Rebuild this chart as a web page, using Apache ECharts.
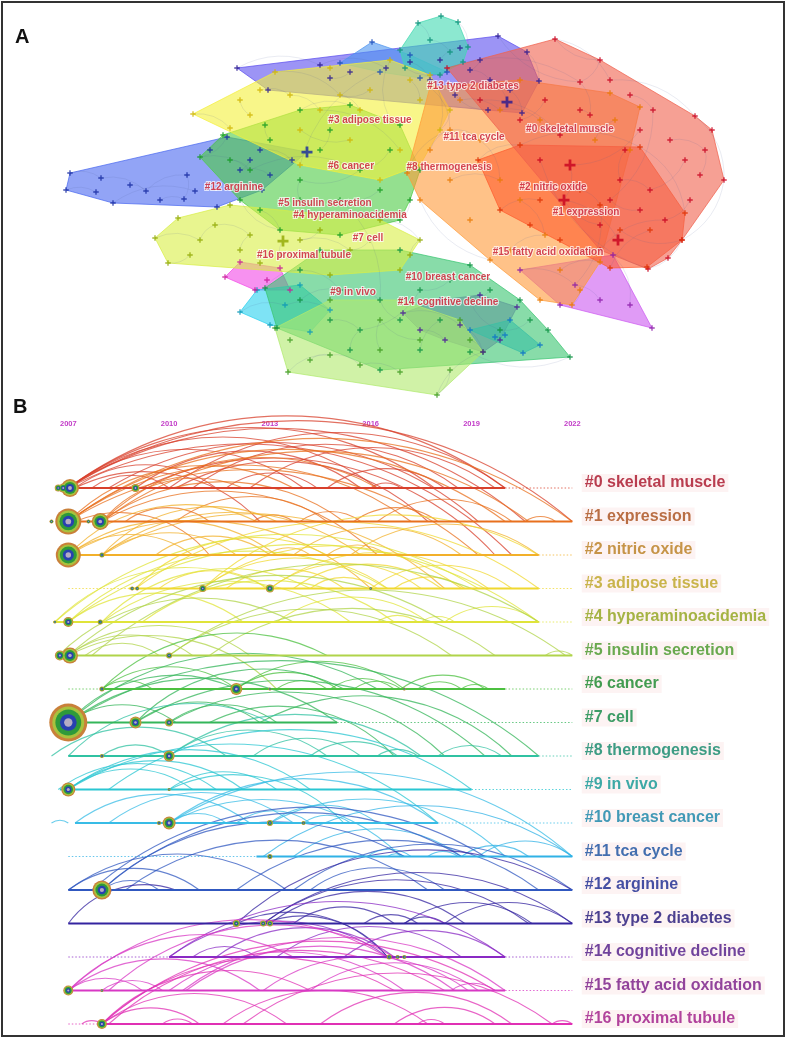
<!DOCTYPE html>
<html>
<head>
<meta charset="utf-8">
<script src="https://cdn.jsdelivr.net/npm/echarts@6.0.0/dist/echarts.min.js"></script>
<style>
  html, body { margin: 0; padding: 0; background: #fff; }
  #main { width: 789px; height: 1040px; }
</style>
</head>
<body>
<div id="main"></div>
<script>
// ---- data ----
var clusterNames = ['#0 skeletal muscle', '#1 expression', '#2 nitric oxide', '#3 adipose tissue',
  '#4 hyperaminoacidemia', '#5 insulin secretion', '#6 cancer', '#7 cell', '#8 thermogenesis',
  '#9 in vivo', '#10 breast cancer', '#11 tca cycle', '#12 arginine', '#13 type 2 diabetes',
  '#14 cognitive decline', '#15 fatty acid oxidation', '#16 proximal tubule'];

// panel A: network layout, one list of nodes [x, y, big] per cluster
var netNodes = [
  [[447,68],[555,39],[610,80],[695,116],[712,130],[724,180],[682,240],[668,258],[648,269],[600,250],[540,160],[480,100],[580,82],[590,115],[640,130],[653,110],[625,150],[685,160],[700,175],[650,190],[610,200],[665,220],[570,165,1],[520,120],[560,135],[564,200,1],[618,240,1],
   [600,60],[630,95],[670,140],[705,150],[690,200],[640,210],[600,225],[580,110],[545,100],[620,180]],
  [[478,160],[520,145],[640,147],[685,213],[682,240],[647,267],[610,268],[560,240],[500,210],[580,190],[600,205],[620,230],[650,230],[540,200],[530,225]],
  [[430,87],[520,80],[610,93],[640,107],[630,150],[600,262],[572,305],[540,300],[490,260],[420,200],[407,173],[450,130],[480,140],[500,180],[520,200],[545,235],[560,270],[470,220],[595,140],[615,120],
   [460,100],[500,110],[540,120],[510,250],[580,290],[450,180],[430,150]],
  [[193,114],[240,100],[275,72],[330,68],[390,60],[430,75],[440,130],[420,165],[380,180],[300,165],[230,128],[340,95],[360,110],[390,120],[420,100],[350,140],[300,130],[320,110],[400,150],
   [260,90],[290,95],[410,80],[370,90],[250,115],[450,110]],
  [[155,238],[168,263],[178,218],[230,205],[300,215],[380,220],[420,240],[400,270],[330,275],[260,263],[200,240],[215,225],[250,235],[300,240],[350,250],[283,241,1],
   [190,255],[240,250],[280,255],[320,230],[370,240],[410,255]],
  [[275,328],[288,372],[437,395],[483,352],[460,320],[400,300],[330,300],[290,340],[330,355],[360,365],[400,372],[420,340],[380,320],
   [310,360],[380,350],[450,370],[470,340]],
  [[200,157],[223,135],[265,125],[300,110],[350,105],[400,125],[420,170],[400,220],[340,235],[280,230],[240,200],[320,150],[360,170],[300,180],[380,190],[340,200],[250,170],
   [230,160],[270,140],[330,130],[390,150],[410,200],[300,200],[260,210]],
  [[265,288],[277,328],[380,370],[470,352],[570,357],[548,330],[520,300],[470,265],[400,250],[320,250],[300,270],[340,290],[380,300],[420,290],[440,320],[360,330],[500,330],[470,300],
   [300,300],[330,320],[400,320],[450,280],[490,290],[530,320],[420,350],[350,350]],
  [[418,23],[441,16],[458,22],[468,47],[463,62],[440,75],[405,68],[400,50],[430,40],[450,52]],
  [[240,312],[257,290],[300,285],[330,310],[310,332],[270,325],[285,305]],
  [[470,330],[495,337],[523,353],[540,345],[510,320],[505,335]],
  [[340,63],[372,42],[410,55],[447,72],[420,78],[380,72]],
  [[70,173],[66,190],[113,203],[217,207],[262,190],[292,160],[260,150],[227,137],[101,178],[96,192],[146,191],[187,175],[195,191],[184,199],[240,170],[270,175],[307,152,1],
   [130,185],[160,200],[210,150],[250,160]],
  [[237,68],[268,90],[330,78],[386,68],[460,48],[498,36],[527,52],[539,81],[522,113],[488,110],[455,95],[430,80],[470,70],[490,80],[507,102,1],[320,65],
   [350,72],[410,62],[440,60],[510,90],[480,60]],
  [[403,313],[420,330],[445,340],[483,352],[500,340],[517,307],[480,295],[440,300],[460,325]],
  [[520,270],[613,255],[652,328],[560,305],[600,300],[630,305],[575,285]],
  [[225,277],[240,262],[280,268],[290,290],[255,290],[267,280]]
];

// links: [cluster, node, cluster, node]
var netLinks = [
  [0,0,0,12],[0,1,0,2],[0,2,0,3],[0,3,0,5],[0,5,0,6],[0,6,0,8],[0,8,0,10],[0,12,0,13],[0,14,0,22],
  [0,22,0,25],[0,25,0,26],[0,17,0,19],[0,11,0,24],[0,15,0,20],[0,9,0,21],
  [0,27,0,1],[0,27,0,12],[0,28,0,15],[0,29,0,30],[0,30,0,18],[0,31,0,21],[0,32,0,20],[0,33,0,25],
  [0,34,0,13],[0,35,0,23],[0,36,0,16],[0,36,0,19],
  [1,0,1,1],[1,1,1,2],[1,2,1,3],[1,4,1,11],[1,8,1,13],[1,9,1,10],[1,6,1,12],
  [2,0,2,11],[2,10,2,11],[2,11,2,12],[2,12,2,13],[2,14,2,15],[2,16,2,5],[2,8,2,9],[2,18,2,19],
  [2,20,2,21],[2,21,2,22],[2,23,2,15],[2,24,2,6],[2,25,2,13],[2,26,2,11],
  [3,0,3,10],[3,2,3,11],[3,11,3,12],[3,13,3,4],[3,15,3,16],[3,17,3,18],[3,5,3,6],
  [3,19,3,20],[3,20,3,17],[3,21,3,14],[3,22,3,11],[3,23,3,1],[3,24,3,6],
  [4,0,4,10],[4,10,4,11],[4,11,4,12],[4,13,4,14],[4,5,4,6],
  [4,16,4,1],[4,17,4,12],[4,18,4,15],[4,19,4,13],[4,20,4,14],[4,21,4,6],
  [5,1,5,8],[5,8,5,9],[5,9,5,10],[5,11,5,12],[5,2,5,3],
  [5,13,5,8],[5,14,5,12],[5,15,5,2],[5,16,5,3],
  [6,0,6,16],[6,16,6,12],[6,12,6,13],[6,14,6,15],[6,3,6,4],[6,9,6,10],
  [6,17,6,16],[6,18,6,2],[6,19,6,11],[6,20,6,12],[6,21,6,7],[6,22,6,13],[6,23,6,9],
  [7,0,7,10],[7,10,7,11],[7,11,7,12],[7,13,7,15],[7,16,7,17],[7,4,7,3],
  [7,18,7,11],[7,19,7,15],[7,20,7,12],[7,21,7,13],[7,22,7,17],[7,23,7,16],[7,24,7,14],[7,25,7,15],
  [8,0,8,8],[8,8,8,9],[8,2,8,3],
  [9,0,9,6],[9,6,9,3],
  [12,0,12,8],[12,8,12,10],[12,10,12,11],[12,11,12,13],[12,1,12,9],[12,2,12,12],[12,14,12,15],[12,6,12,5],
  [12,17,12,10],[12,18,12,13],[12,19,12,7],[12,20,12,14],
  [13,0,13,15],[13,15,13,3],[13,12,13,13],[13,13,13,14],[13,6,13,7],[13,9,13,10],
  [13,16,13,2],[13,17,13,11],[13,18,13,4],[13,19,13,8],[13,20,13,12],
  [14,0,14,8],[14,8,14,3],[14,6,14,7],[14,1,14,2],
  [15,0,15,6],[15,6,15,4],[15,1,15,5],
  [12,7,6,0],[6,15,7,12],[3,9,13,3],[2,0,13,11],[0,12,13,5],[7,17,14,6],[4,14,7,9],[16,5,7,0],[11,3,8,6],[1,10,15,6]
];

// cluster label anchors in the network layout
var netLabelPos = [[570,129],[586,212],[553,187],[370,120],[350,215],[325,203],[351,166],[368,238],
  [449,167],[353,292],[448,277],[474,137],[234,187],[473,86],[448,302],[548,252],[304,255]];

// panel B: timeline
var yearTicks = [2007, 2010, 2013, 2016, 2019, 2022];
var rowSolidStart = [2007, 2007, 2007, 2008.8, 2006.55, 2006.75, 2008, 2007, 2007, 2006.75, 2007.2, 2012.6, 2007, 2007, 2010, 2007, 2008];
var rowSolidEnd   = [2020, 2022, 2021, 2021, 2021, 2022, 2020, 2015, 2021, 2019, 2018, 2022, 2022, 2022, 2020, 2020, 2022];
var rowDotStart   = [null, null, null, 2007, null, null, 2007, null, null, null, null, 2007, null, null, 2007, null, 2007];

// nodes: [year, cluster row, diameter]
var tlNodes = [
  [2006.7,0,7],[2006.85,0,9],[2007.05,0,18],[2009,0,8],
  [2006.5,1,4],[2007,1,26],[2007.6,1,4],[2007.95,1,17],
  [2007,2,25],[2008,2,5],
  [2008.9,3,4],[2009.05,3,4],[2011,3,7],[2013,3,8],[2016,3,3],
  [2006.6,4,3],[2007,4,10],[2007.95,4,5],
  [2006.75,5,10],[2007.05,5,16],[2010,5,6],
  [2008,6,5],[2012,6,12],[2013,6,3],[2017,6,3],
  [2007,7,38],[2009,7,12],[2010,7,8],
  [2008,8,4],[2010,8,11],
  [2007,9,14],[2010,9,3],
  [2009.7,10,4],[2010,10,13],[2013,10,6],[2014,10,4],
  [2013,11,5],
  [2008,12,19],
  [2012,13,7],[2012.8,13,6],[2013,13,6],
  [2016.55,14,5],[2016.8,14,4],[2017,14,4],
  [2007,15,10],[2008,15,3],
  [2008,16,10]
];

// co-citation arcs: [year from, row from, year to, row to]
var tlLinks = [
  [2007,0,2020,0],[2007,0,2017.9,0],[2007,0,2016.2,0],[2007,0,2014,0],[2007.2,0,2011.4,0],[2007.7,0,2010,0],
  [2009,0,2015.7,0],[2010,0,2020,0],[2010.7,0,2018.6,0],[2011.7,0,2014.4,0],[2016,0,2016.9,0],[2012.4,0,2019.7,0],
  [2014.7,0,2018.2,0],[2007,0,2022,1],[2007,0,2020.6,1],[2008.2,0,2019.2,1],[2007.2,0,2012.7,1],[2010.2,0,2017.7,1],
  [2007,0,2020.2,2],[2009.2,0,2019.7,2],
  [2007,1,2013.7,0],[2008,1,2016.2,0],[2008,1,2012.2,0],[2007,1,2022,1],[2007,1,2020,1],[2007,1,2017.2,1],
  [2008,1,2015.2,1],[2008,1,2020.7,1],[2008.7,1,2011.2,1],[2010.2,1,2014.7,1],[2012.5,1,2013.7,1],[2013.9,1,2015.7,1],
  [2015.5,1,2018,1],[2016.2,1,2020.2,1],[2020.6,1,2021.5,1],[2007,1,2019.2,2],[2008,1,2016.2,2],[2007.2,1,2011.2,2],
  [2007,2,2012.6,1],[2008,2,2013.2,1],[2007,2,2010.7,2],[2007,2,2013.2,2],[2008,2,2012,2],[2008,2,2015.7,2],
  [2009.6,2,2013,2],[2012.9,2,2014.2,2],[2013.7,2,2018.7,2],[2015.4,2,2021,2],[2014.7,2,2016.5,2],[2007,2,2016,3],
  [2008,2,2018.2,3],
  [2009,3,2014.7,2],[2009,3,2021,3],[2011,3,2018.7,3],[2011,3,2016.5,3],[2013,3,2019.5,3],[2013,3,2017.5,3],
  [2011.7,3,2015.2,3],[2013.7,3,2018.1,3],[2016,3,2020.2,3],[2016.7,3,2018.8,3],[2009.7,3,2012.9,3],[2014.2,3,2016.2,3],
  [2011,3,2021,2],
  [2006.6,4,2013,3],[2007,4,2016.5,3],[2008,4,2014.2,3],[2006.6,4,2019.2,3],[2007,4,2021,4],[2007,4,2012.2,4],
  [2008,4,2015.4,4],[2009.2,4,2016.7,4],[2013.2,4,2017.7,4],[2016.2,4,2017.4,4],[2017.5,4,2018.5,4],[2018.2,4,2021,4],
  [2006.7,5,2013.7,4],[2007,5,2018.2,4],[2007.7,5,2021,4],[2007,5,2010.7,5],[2007,5,2012.4,5],[2007.5,5,2009.7,5],
  [2010,5,2018.4,5],[2010,5,2021.8,5],[2011.2,5,2019.7,5],[2021.2,5,2022,5],[2007,5,2013.2,6],
  [2008,6,2014.7,5],[2008,6,2012,6],[2008,6,2009.5,6],[2012,6,2015,6],[2012,6,2017,6],[2013.2,6,2014.7,6],
  [2014.8,6,2016.7,6],[2016.9,6,2019.4,6],[2017.4,6,2018.7,6],[2018.7,6,2019.5,6],[2015.5,6,2016.9,6],
  [2007,7,2012,6],[2007,7,2016.2,6],[2009,7,2015.2,6],[2007,7,2015,7],[2007,7,2010.2,7],[2009,7,2012.7,7],
  [2010,7,2013.2,7],[2007,7,2021,8],[2009,7,2019.4,8],[2010,7,2018.2,8],[2012.7,7,2020.2,8],[2011.2,7,2016.7,8],
  [2006.5,8,2011.7,8],[2008,8,2010,8],[2010,8,2014.7,8],[2010,8,2017.5,8],[2012.5,8,2015.7,8],[2014.2,8,2016.8,8],
  [2018,8,2019.9,8],[2016.2,8,2017.4,8],[2007,8,2013,7],
  [2007,9,2012.2,9],[2007,9,2010.7,9],[2007,9,2014.2,9],[2006.7,9,2011.4,9],[2008.2,9,2019,9],[2010,9,2013.2,9],
  [2007,9,2018,10],[2010,9,2015.2,10],
  [2006.5,10,2007,10],[2007.2,10,2012.4,10],[2008.2,10,2013.7,10],[2010,10,2018,10],[2010,10,2011.7,10],[2013,10,2016.2,10],
  [2014,10,2015.4,10],[2012,10,2014.2,10],[2010,10,2022,11],[2013,10,2020,11],[2010,10,2016.9,11],
  [2012.8,11,2022,11],[2013.7,11,2018.7,11],[2015.9,11,2017.2,11],[2016.5,11,2017,11],[2017.7,11,2018.6,11],
  [2018.7,11,2020.7,11],[2019.2,11,2022,11],
  [2008,12,2017,11],[2007.7,12,2019.4,11],[2008,12,2018.7,11],[2007,12,2013.5,12],[2007,12,2010.9,12],[2008,12,2009.7,12],
  [2008.7,12,2017.7,12],[2012,12,2021,12],[2013.7,12,2022,12],[2014.2,12,2018.2,12],
  [2007,13,2010.2,12],[2012,13,2022,12],[2012.8,13,2022,13],[2012.8,13,2020.7,13],[2013,13,2018.8,13],[2013.7,13,2016.7,13],
  [2015.8,13,2017.4,13],[2017,13,2018.2,13],[2017,13,2020.8,13],[2018.2,13,2022,13],[2012.8,13,2016.5,14],[2012,13,2016.5,14],
  [2010,14,2020,14],[2010,14,2016.5,14],[2011.4,14,2016.7,14],[2013.2,14,2018.7,14],[2015.2,14,2020,14],[2010.7,14,2012.6,14],
  [2007,15,2013.7,14],[2007,15,2016.5,14],[2008.2,15,2016.7,14],[2007,15,2009.2,15],[2008,15,2009.8,15],[2007,15,2012.7,15],
  [2010,15,2017,15],[2010.4,15,2020,15],[2010.5,15,2018.5,15],[2012.8,15,2018.9,15],[2014.2,15,2019.2,15],[2018.4,15,2019.7,15],
  [2008,16,2016.7,15],[2008,16,2019.7,15],[2008,16,2014.2,15],[2008.2,16,2018.2,15],[2008,16,2013.5,16],[2008,16,2010.9,16],
  [2007.4,16,2008,16],[2009.8,16,2010.7,16],[2011.6,16,2017.7,16],[2012.2,16,2021.4,16],[2016.7,16,2019.7,16],[2017.4,16,2018.2,16],
  [2021.4,16,2022,16],[2014.5,16,2020.2,16]
];

// ---- styles ----
var hullColors = ['#f0604c','#ff5a2c','#ff9a38','#f4f03a','#d8ee44','#b0ea6c','#4ccc44','#38c470','#40d8b0','#28d0ee','#38b8f4','#4c94f0','#4a68f0','#5a4cee','#9660d4','#cc58f0','#f248e6'];
var nodeColors = ['#c8001e','#e03000','#e87800','#d0b400','#90a800','#3c9a1e','#129a1e','#0a9040','#0a9078','#0a98b8','#0a70c8','#1848b8','#1428a0','#281890','#4a1898','#8a18a8','#c81898'];
var rowColors = ['#d8402c','#e8701e','#f2b02a','#f0d830','#e0e43a','#b0d44a','#4cc040','#34b65a','#30c2a2','#2ac6d2','#38bce6','#30b2e6','#3058c0','#3424a0','#8a2ac4','#d838c4','#e030b4'];
var labelColors = ['#a80f26','#a84c18','#b87c1c','#bca420','#8ea218','#449626','#148628','#0e8642','#0c8668','#0c9692','#1282a6','#144c9e','#16268e','#1e1276','#4c1686','#761684','#9e1686'];
var ringSizes = [1, 0.84, 0.68, 0.44, 0.22];
var ringColors = ['#c9803a', '#a8c23e', '#2e9a3a', '#2840b0', '#b4acc4'];
var crossPath = 'path://M3,0H5V3H8V5H5V8H3V5H0V3H3Z';
var fontFamily = 'Liberation Sans, Arial, sans-serif';

function convexHull(pts) {
  var p = pts.map(function (d) { return [d[0], d[1]]; })
    .sort(function (a, b) { return a[0] - b[0] || a[1] - b[1]; });
  function cross(o, a, b) { return (a[0] - o[0]) * (b[1] - o[1]) - (a[1] - o[1]) * (b[0] - o[0]); }
  var lower = [], upper = [];
  p.forEach(function (q) {
    while (lower.length >= 2 && cross(lower[lower.length - 2], lower[lower.length - 1], q) <= 0) lower.pop();
    lower.push(q);
  });
  for (var i = p.length - 1; i >= 0; i--) {
    var q = p[i];
    while (upper.length >= 2 && cross(upper[upper.length - 2], upper[upper.length - 1], q) <= 0) upper.pop();
    upper.push(q);
  }
  upper.pop(); lower.pop();
  return lower.concat(upper);
}

var alpha = echarts.color.modifyAlpha;

// hull polygons, drawn from the last cluster to the first
var hullOrder = [];
for (var c = clusterNames.length - 1; c >= 0; c--) hullOrder.push([c, 0]);

var netNodeData = [];
netNodes.forEach(function (list, c) {
  list.forEach(function (n) {
    netNodeData.push({ value: [n[0], n[1]], symbolSize: n[2] ? 11 : 5.5, itemStyle: { color: nodeColors[c] } });
  });
});

var netLinkData = netLinks.map(function (l) {
  var a = netNodes[l[0]][l[1]], b = netNodes[l[2]][l[3]];
  return { coords: [[a[0], a[1]], [b[0], b[1]]] };
});

var netLabelData = netLabelPos.map(function (p, c) {
  return { value: p, name: clusterNames[c] };
});

function renderArc(params, api) {
  var a = api.coord([api.value(0), api.value(1)]);
  var b = api.coord([api.value(2), api.value(3)]);
  var row = api.value(1);
  if (a[0] > b[0]) { var t = a; a = b; b = t; }
  var dx = b[0] - a[0], dy = b[1] - a[1];
  var len = Math.sqrt(dx * dx + dy * dy);
  if (len < 1) return;
  var r = len * 0.84;
  var h = Math.sqrt(r * r - len * len / 4);
  var cx = (a[0] + b[0]) / 2 - dy / len * h;
  var cy = (a[1] + b[1]) / 2 + dx / len * h;
  var s = Math.atan2(a[1] - cy, a[0] - cx);
  var e = Math.atan2(b[1] - cy, b[0] - cx);
  if (e < s) e += Math.PI * 2;
  return {
    type: 'arc',
    shape: { cx: cx, cy: cy, r: r, startAngle: s, endAngle: e, clockwise: true },
    style: { fill: 'none', stroke: alpha(rowColors[row], 0.75), lineWidth: 1.1 }
  };
}

function renderRow(params, api) {
  var k = params.dataIndex;
  var color = rowColors[k];
  var children = [];
  function seg(x1, x2, dotted) {
    var p1 = api.coord([x1, k]), p2 = api.coord([x2, k]);
    children.push({
      type: 'line',
      shape: { x1: p1[0], y1: p1[1], x2: p2[0], y2: p2[1] },
      style: dotted
        ? { stroke: alpha(color, 0.75), lineWidth: 1, lineDash: [1.5, 2] }
        : { stroke: color, lineWidth: 2.2 }
    });
  }
  if (rowDotStart[k] != null) seg(rowDotStart[k], rowSolidStart[k], true);
  seg(rowSolidStart[k], rowSolidEnd[k], false);
  if (rowSolidEnd[k] < 2022) seg(rowSolidEnd[k], 2022, true);
  return { type: 'group', children: children };
}

var ringSeries = ringSizes.map(function (f, i) {
  return {
    type: 'scatter', xAxisIndex: 1, yAxisIndex: 1, z: 3 + i, silent: true,
    symbol: 'circle',
    data: tlNodes.map(function (n) { return { value: [n[0], n[1]], symbolSize: Math.max(n[2] * f, 1) }; }),
    itemStyle: { color: ringColors[i], opacity: 1 }
  };
});

var rowLabelData = clusterNames.map(function (name, k) {
  return {
    value: [2022, k],
    label: { formatter: name, color: labelColors[k] }
  };
});

var chart = echarts.init(document.getElementById('main'), null, { renderer: 'canvas' });
chart.setOption({
  animation: false,
  backgroundColor: '#fff',
  grid: [
    { left: 0, top: 0, width: 789, height: 400, outerBoundsMode: 'none' },
    { left: 34.7, top: 454.5, width: 537.6, height: 586.25, outerBoundsMode: 'none' }
  ],
  xAxis: [
    { gridIndex: 0, type: 'value', min: 0, max: 789, show: false },
    {
      gridIndex: 1, type: 'value', min: 2006, max: 2022, interval: 1, position: 'top',
      axisLine: { show: false }, axisTick: { show: false }, splitLine: { show: false },
      axisLabel: {
        margin: 27, color: '#c23cc8', fontSize: 7.5, fontWeight: 'bold', fontFamily: fontFamily,
        formatter: function (v) { return yearTicks.indexOf(v) >= 0 ? String(v) : ''; }
      }
    }
  ],
  yAxis: [
    { gridIndex: 0, type: 'value', min: 0, max: 400, inverse: true, show: false },
    { gridIndex: 1, type: 'value', min: -1, max: 16.5, inverse: true, show: false }
  ],
  graphic: [
    { type: 'rect', shape: { x: 2, y: 2, width: 782, height: 1034 }, style: { fill: 'none', stroke: '#333', lineWidth: 2 }, z: 100 },
    { type: 'text', x: 15, y: 27, style: { text: 'A', font: 'bold 20px ' + fontFamily, fill: '#111' }, z: 100 },
    { type: 'text', x: 13, y: 397, style: { text: 'B', font: 'bold 20px ' + fontFamily, fill: '#111' }, z: 100 }
  ],
  series: [
    {
      type: 'custom', xAxisIndex: 0, yAxisIndex: 0, z: 1, silent: true,
      data: hullOrder,
      renderItem: function (params, api) {
        var c = api.value(0);
        var pts = convexHull(netNodes[c]).map(function (p) { return api.coord([p[0], p[1]]); });
        return {
          type: 'polygon',
          shape: { points: pts },
          style: { fill: alpha(hullColors[c], 0.6), stroke: alpha(hullColors[c], 0.9), lineWidth: 0.8 }
        };
      }
    },
    {
      type: 'lines', coordinateSystem: 'cartesian2d', xAxisIndex: 0, yAxisIndex: 0, z: 2, silent: true,
      data: netLinkData,
      lineStyle: { color: 'rgba(70,90,150,0.3)', width: 0.8, curveness: 0.25 }
    },
    {
      type: 'scatter', xAxisIndex: 0, yAxisIndex: 0, z: 3, silent: true,
      symbol: crossPath, data: netNodeData
    },
    {
      type: 'scatter', xAxisIndex: 0, yAxisIndex: 0, z: 4, silent: true,
      symbolSize: 1, itemStyle: { color: 'rgba(0,0,0,0)' },
      data: netLabelData,
      label: {
        show: true, position: 'inside', formatter: '{b}',
        color: '#c8182a', fontSize: 10, fontWeight: 'bold', fontFamily: fontFamily,
        textBorderColor: 'rgba(255,255,255,0.9)', textBorderWidth: 2
      }
    },
    {
      type: 'custom', xAxisIndex: 1, yAxisIndex: 1, z: 1, silent: true,
      data: tlLinks, renderItem: renderArc
    },
    {
      type: 'custom', xAxisIndex: 1, yAxisIndex: 1, z: 2, silent: true,
      data: clusterNames.map(function (n, k) { return [2022, k]; }), renderItem: renderRow
    }
  ].concat(ringSeries).concat([
    {
      type: 'scatter', xAxisIndex: 1, yAxisIndex: 1, z: 10, silent: true,
      symbolSize: 1, itemStyle: { color: 'rgba(0,0,0,0)' },
      data: rowLabelData,
      label: {
        show: true, position: 'right', distance: 9, offset: [0, -5],
        fontSize: 16, fontWeight: 'bold', fontFamily: fontFamily,
        backgroundColor: 'rgba(250,222,222,0.45)', padding: [1, 3]
      }
    }
  ])
});
</script>
</body>
</html>
